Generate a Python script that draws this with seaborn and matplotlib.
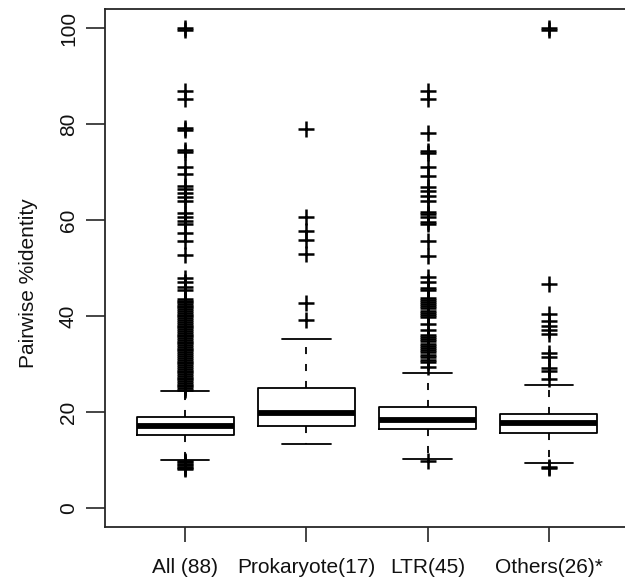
import matplotlib
matplotlib.use("Agg")
import matplotlib.pyplot as plt
import seaborn as sns
import pandas as pd

# ---------------- data ----------------
groups = ["All (88)", "Prokaryote(17)", "LTR(45)", "Others(26)*"]

q1 = [15.2, 17.1, 16.4, 15.5]
medians = [17.0, 19.8, 18.4, 17.7]
q3 = [19.0, 24.9, 21.1, 19.5]
whisker_low = [10.0, 13.4, 10.1, 9.4]
whisker_high = [24.3, 35.3, 28.1, 25.6]

outliers_all = [100.0, 99.6, 86.9, 85.2, 79.1, 78.7, 74.5, 74.1, 71.0, 69.6,
                67.2, 66.5, 65.6, 64.7, 64.0, 61.4, 60.7, 59.9, 59.2, 57.3,
                55.7, 52.7, 48.0, 47.0, 46.1, 45.4, 43.6, 43.2, 42.9, 42.5,
                42.1, 41.8, 41.4, 41.0, 40.6, 40.3, 39.9, 39.5, 39.1, 38.8,
                38.4, 38.0, 37.6, 37.3, 36.9, 36.5, 36.1, 35.8, 35.4, 35.0,
                34.6, 34.3, 33.9, 33.5, 33.1, 32.8, 32.4, 32.0, 31.6, 31.3,
                30.9, 30.5, 30.1, 29.8, 29.4, 29.0, 28.6, 28.3, 27.9, 27.5,
                27.1, 26.8, 26.4, 26.0, 25.6, 25.3, 24.9, 24.6,
                9.8, 9.5, 9.2, 8.9, 8.6, 8.3, 8.0]
outliers_prok = [78.9, 60.6, 57.8, 55.9, 52.9, 42.6, 39.2]
outliers_ltr = [86.9, 85.2, 78.2, 74.3, 73.9, 71.0, 69.2, 66.8, 66.0, 65.1,
                64.0, 61.6, 61.2, 60.7, 59.5, 59.1, 55.7, 52.4, 48.1, 47.0,
                45.9, 45.5, 43.7, 43.3, 42.9, 42.4, 42.0, 41.6, 41.1, 40.6,
                40.2, 39.8, 38.4, 37.0, 36.0, 35.6, 35.1, 34.7, 34.2, 33.8,
                33.3, 32.9, 32.4, 31.9, 31.4, 30.9, 30.4, 29.4, 9.8]
outliers_oth = [100.0, 99.7, 46.7, 40.4, 39.0, 38.0, 37.0, 36.3, 32.3, 31.4,
                29.2, 28.5, 26.8, 8.6, 8.2]

y_ticks = [0, 20, 40, 60, 80, 100]
y_label = "Pairwise %identity"

# ---------------- style ----------------
sns.set_theme(style="ticks")
plt.rcParams["font.family"] = ["Liberation Sans", "DejaVu Sans"]
frame_col = "#262626"

fig = plt.figure(figsize=(6.25, 5.88), dpi=100)
ax = fig.add_axes([105 / 625, 1 - 527 / 588, (629 - 105) / 625, (527 - 9) / 588])

# outliers via seaborn
out_lists = [outliers_all, outliers_prok, outliers_ltr, outliers_oth]
df = pd.DataFrame({
    "group": [g for g, lst in zip(groups, out_lists) for _ in lst],
    "value": [v for lst in out_lists for v in lst],
})
sns.stripplot(data=df, x="group", y="value", order=groups, jitter=False,
              marker="+", color="black", size=11.5, linewidth=1.8, ax=ax)

# boxes
stats = []
for i in range(len(groups)):
    stats.append(dict(med=medians[i], q1=q1[i], q3=q3[i],
                      whislo=whisker_low[i], whishi=whisker_high[i],
                      fliers=[], label=groups[i]))
ax.bxp(stats, positions=range(len(groups)), widths=0.8, capwidths=0.4,
       showfliers=False, patch_artist=False,
       boxprops=dict(color="black", linewidth=1.3),
       medianprops=dict(color="black", linewidth=4.2, solid_capstyle="butt"),
       whiskerprops=dict(color="black", linewidth=1.3, linestyle=(0, (3.9, 5.5))),
       capprops=dict(color="black", linewidth=1.3),
       manage_ticks=False)

ax.set_xlim(-0.66, 3.66)
ax.set_ylim(-4, 104)
ax.set_xticks(range(len(groups)))
ax.set_xticklabels(groups)
ax.set_yticks(y_ticks)
ax.set_yticklabels([str(t) for t in y_ticks])
ax.set_xlabel("")
ax.set_ylabel(y_label, fontsize=15, color="#111111")
ax.yaxis.set_label_coords(-0.128, 0.47)

for s in ["left", "top", "bottom"]:
    ax.spines[s].set_color(frame_col)
    ax.spines[s].set_linewidth(1.3)
    ax.spines[s].set_visible(True)
ax.spines["right"].set_visible(False)

ax.tick_params(axis="y", length=13.5, width=1.2, color=frame_col, pad=6,
               labelsize=15, labelcolor="#111111", direction="out")
ax.tick_params(axis="x", length=11, width=1.2, color=frame_col, pad=11,
               labelsize=15, labelcolor="#111111", direction="out")
plt.setp(ax.get_yticklabels(), rotation=90, va="center")
ax.grid(False)

fig.savefig("out.png", dpi=100)
